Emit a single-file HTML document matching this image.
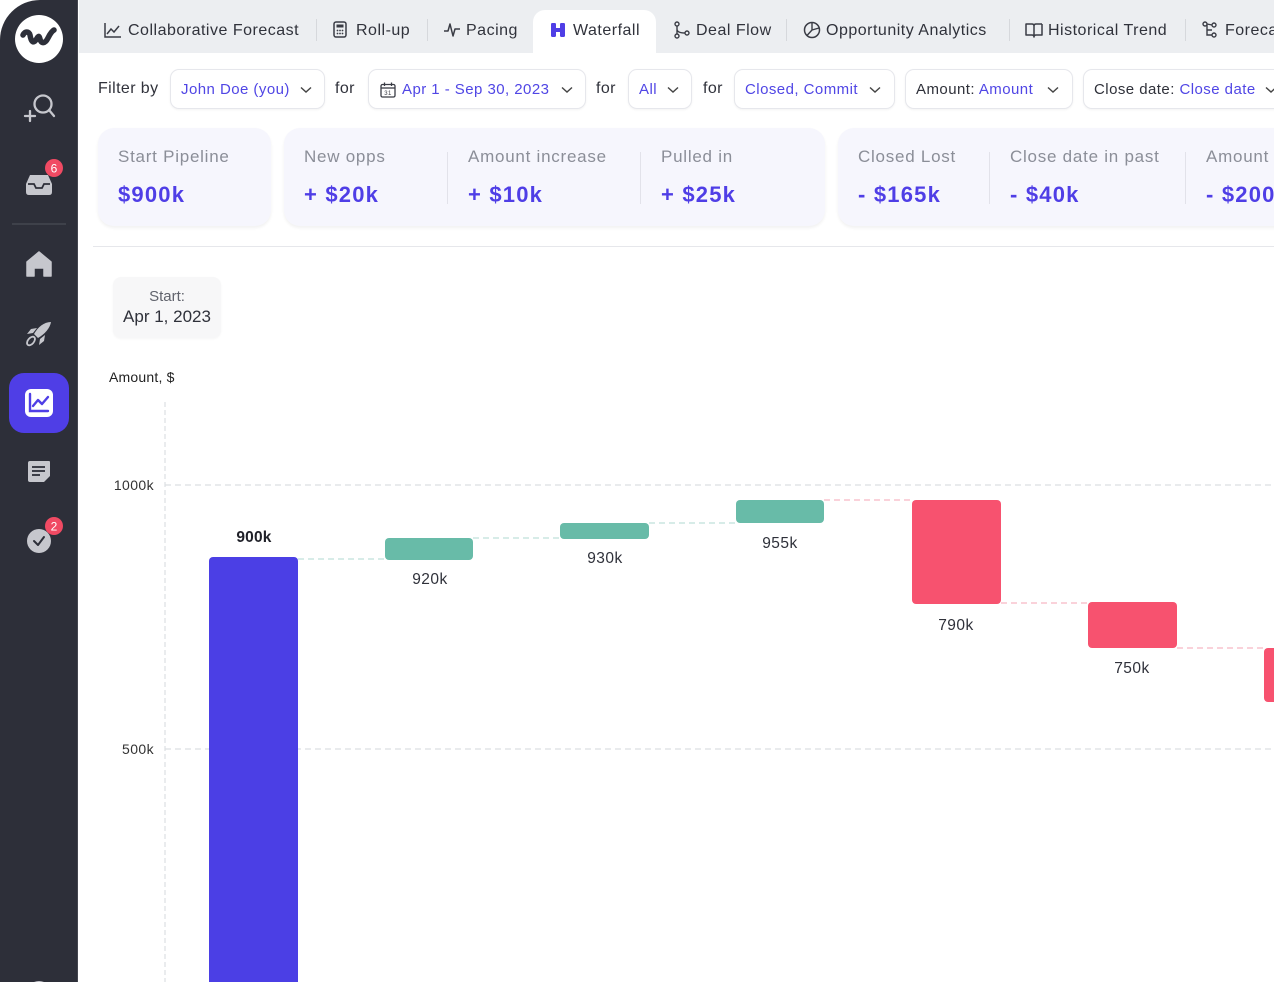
<!DOCTYPE html>
<html>
<head>
<meta charset="utf-8">
<style>
*{margin:0;padding:0;box-sizing:border-box}
html,body{width:1274px;height:982px;overflow:hidden;background:#fff;font-family:"Liberation Sans",Arial,sans-serif;color:#2f313a}
.a{position:absolute}
.t{position:absolute;white-space:nowrap}
.tab{position:absolute;top:21px;height:20px;line-height:20px;font-size:16px;letter-spacing:0.5px;color:#30323b;white-space:nowrap}
.sep{position:absolute;top:19px;width:1px;height:22px;background:#d6d8dc}
.ico{position:absolute;top:22px}
.box{position:absolute;top:69px;height:40px;border:1px solid #e6e7ec;border-radius:9px;background:#fff;box-shadow:0 1px 2px rgba(0,0,0,0.05);font-size:15px;letter-spacing:0.45px;line-height:40px;white-space:nowrap;color:#5046e5}
.dk{color:#2f313a}
.chev{position:absolute;top:16px}
.for{position:absolute;top:79px;height:20px;line-height:20px;font-size:16px;letter-spacing:0.4px;color:#30323b}
.card{position:absolute;top:128px;height:98px;background:#f6f6fd;border-radius:16px;box-shadow:0 2px 3px rgba(0,0,0,0.06)}
.lbl{position:absolute;top:146px;font-size:17px;letter-spacing:0.75px;color:#8b8e98;white-space:nowrap;line-height:22px}
.val{position:absolute;top:182px;font-size:22px;font-weight:bold;letter-spacing:1.2px;color:#4f3ee6;white-space:nowrap;line-height:26px}
.vd{position:absolute;top:152px;width:1px;height:52px;background:#e2e2ea}
</style>
</head>
<body>

<!-- Sidebar -->
<div class="a" style="left:0;top:0;width:78px;height:982px;background:#2d2f39;border-top-left-radius:40px;border-right:1px solid #44464f"></div>
<svg class="a" style="left:0;top:0" width="78" height="982" viewBox="0 0 78 982">
  <circle cx="39" cy="39" r="24" fill="#fff"/>
  <path d="M23,35 C25,31 29,31 30,35 C31,41 33,44 36,40 C38,36 39,35 40,39 C41,44 45,44 48,38 C50,34 52,31 54,30" fill="none" stroke="#2d2f39" stroke-width="5.5" stroke-linecap="round" stroke-linejoin="round"/>
  <circle cx="43" cy="104" r="8.5" fill="none" stroke="#c6c7cd" stroke-width="2.3"/>
  <line x1="49" y1="110" x2="54" y2="116" stroke="#c6c7cd" stroke-width="2.3" stroke-linecap="round"/>
  <line x1="25" y1="116" x2="35" y2="116" stroke="#c6c7cd" stroke-width="2.3" stroke-linecap="round"/>
  <line x1="30" y1="111" x2="30" y2="121" stroke="#c6c7cd" stroke-width="2.3" stroke-linecap="round"/>
  <path d="M30,175 L48,175 L52,184 L52,192 Q52,195 49,195 L29,195 Q26,195 26,192 L26,184 Z" fill="#c6c7cd"/>
  <path d="M28,184 L34,184 L36,188 L42,188 L44,184 L50,184" fill="none" stroke="#2d2f39" stroke-width="1.8"/>
  <circle cx="54" cy="168" r="9" fill="#f04a63"/>
  <text x="54" y="172.5" font-size="12" fill="#fff" text-anchor="middle" font-family="Liberation Sans">6</text>
  <line x1="12" y1="224" x2="66" y2="224" stroke="#4a4c56" stroke-width="1.2"/>
  <path d="M39,252 L51,262 L51,276 L44,276 L44,268 L34,268 L34,276 L27,276 L27,262 Z" fill="#c6c7cd" stroke="#c6c7cd" stroke-width="1.5" stroke-linejoin="round"/>
  <path d="M51,322 C44,322 38,327 34,334 L38,338 C45,334 50,328 51,322 Z" fill="#c6c7cd"/>
  <path d="M33,333 L27,334 L31,329 L37,328 Z" fill="#c6c7cd"/>
  <path d="M40,339 L39,345 L44,341 L45,335 Z" fill="#c6c7cd"/>
  <ellipse cx="31" cy="341" rx="3" ry="5" transform="rotate(40 31 341)" fill="none" stroke="#c6c7cd" stroke-width="1.8"/>
  <rect x="9" y="373" width="60" height="60" rx="15" fill="#4f3ee6"/>
  <rect x="25" y="389" width="28" height="28" rx="6" fill="#fff"/>
  <path d="M30,394 L30,411 L48,411" fill="none" stroke="#4f3ee6" stroke-width="2.4" stroke-linecap="round"/>
  <path d="M33,406 L38,400 L42,404 L48,397" fill="none" stroke="#4f3ee6" stroke-width="2.4" stroke-linecap="round" stroke-linejoin="round"/>
  <path d="M30,461 L49,461 Q50,461 50,462 L50,476 L44,482 L30,482 Q28,482 28,480 L28,463 Q28,461 30,461 Z" fill="#c6c7cd"/>
  <line x1="32" y1="467" x2="45" y2="467" stroke="#2d2f39" stroke-width="1.8"/>
  <line x1="32" y1="471" x2="45" y2="471" stroke="#2d2f39" stroke-width="1.8"/>
  <line x1="32" y1="475" x2="40" y2="475" stroke="#2d2f39" stroke-width="1.8"/>
  <circle cx="39" cy="541" r="12" fill="#c6c7cd"/>
  <path d="M34,541 L38,545 L44,537" fill="none" stroke="#2d2f39" stroke-width="2" stroke-linecap="round" stroke-linejoin="round"/>
  <circle cx="54" cy="526" r="9" fill="#f04a63"/>
  <text x="54" y="530.5" font-size="12" fill="#fff" text-anchor="middle" font-family="Liberation Sans">2</text>
  <circle cx="39" cy="993" r="12" fill="#c6c7cd"/>
</svg>

<!-- Tab bar -->
<div class="a" style="left:79px;top:0;width:1195px;height:53px;background:#eceef1"></div>
<div class="a" style="left:533px;top:10px;width:123px;height:44px;background:#fff;border-radius:12px 12px 0 0"></div>

<svg class="ico" style="left:104px" width="18" height="16" viewBox="0 0 18 16"><path d="M1,1 L1,15 L17,15" fill="none" stroke="#3a3c45" stroke-width="1.5"/><path d="M3,12 L7,7 L10,10 L15,4" fill="none" stroke="#3a3c45" stroke-width="1.5"/></svg>
<div class="tab" style="left:128px">Collaborative Forecast</div>
<div class="sep" style="left:316px"></div>
<svg class="ico" style="left:333px;top:21px" width="14" height="17" viewBox="0 0 14 17"><rect x="1" y="1" width="12" height="15" rx="2" fill="none" stroke="#3a3c45" stroke-width="1.5"/><rect x="3.5" y="3.5" width="7" height="3" fill="#3a3c45"/><circle cx="4.5" cy="9.5" r="0.9" fill="#3a3c45"/><circle cx="7" cy="9.5" r="0.9" fill="#3a3c45"/><circle cx="9.5" cy="9.5" r="0.9" fill="#3a3c45"/><circle cx="4.5" cy="12.5" r="0.9" fill="#3a3c45"/><circle cx="7" cy="12.5" r="0.9" fill="#3a3c45"/><circle cx="9.5" cy="12.5" r="0.9" fill="#3a3c45"/></svg>
<div class="tab" style="left:356px">Roll-up</div>
<div class="sep" style="left:427px"></div>
<svg class="ico" style="left:443px" width="18" height="16" viewBox="0 0 18 16"><path d="M1,9 L5,9 L7,2 L10,14 L12,7 L17,7" fill="none" stroke="#3a3c45" stroke-width="1.5" stroke-linejoin="round"/></svg>
<div class="tab" style="left:466px">Pacing</div>
<svg class="ico" style="left:550px" width="16" height="16" viewBox="0 0 16 16"><rect x="1" y="1" width="5" height="14" rx="1.2" fill="#4f3ee6"/><rect x="10" y="1" width="5" height="14" rx="1.2" fill="#4f3ee6"/><rect x="5" y="6" width="6" height="4" fill="#4f3ee6"/></svg>
<div class="tab" style="left:573px">Waterfall</div>
<svg class="ico" style="left:673px;top:21px" width="18" height="18" viewBox="0 0 18 18"><circle cx="4" cy="3" r="2" fill="none" stroke="#3a3c45" stroke-width="1.4"/><circle cx="4" cy="15" r="2" fill="none" stroke="#3a3c45" stroke-width="1.4"/><circle cx="14" cy="12" r="2" fill="none" stroke="#3a3c45" stroke-width="1.4"/><path d="M4,5 L4,13 M4,8 Q4,12 12,12" fill="none" stroke="#3a3c45" stroke-width="1.4"/></svg>
<div class="tab" style="left:696px">Deal Flow</div>
<div class="sep" style="left:786px"></div>
<svg class="ico" style="left:803px;top:21px" width="18" height="18" viewBox="0 0 18 18"><circle cx="9" cy="9" r="7.5" fill="none" stroke="#3a3c45" stroke-width="1.5"/><path d="M9,9 L9,1.5 M9,9 L4,14.5 M9,9 L16,7" fill="none" stroke="#3a3c45" stroke-width="1.4"/></svg>
<div class="tab" style="left:826px">Opportunity Analytics</div>
<div class="sep" style="left:1009px"></div>
<svg class="ico" style="left:1025px;top:22px" width="18" height="16" viewBox="0 0 18 16"><path d="M1,2 L7,2 Q9,2 9,4 L9,15 Q9,13 7,13 L1,13 Z M17,2 L11,2 Q9,2 9,4 M17,2 L17,13 L11,13 Q9,13 9,15" fill="none" stroke="#3a3c45" stroke-width="1.5" stroke-linejoin="round"/></svg>
<div class="tab" style="left:1048px">Historical Trend</div>
<div class="sep" style="left:1185px"></div>
<svg class="ico" style="left:1202px;top:21px" width="16" height="18" viewBox="0 0 16 18"><circle cx="3" cy="3" r="2" fill="none" stroke="#3a3c45" stroke-width="1.4"/><circle cx="12" cy="4" r="2" fill="none" stroke="#3a3c45" stroke-width="1.4"/><circle cx="12" cy="14" r="2" fill="none" stroke="#3a3c45" stroke-width="1.4"/><path d="M5,3 L10,4 M5,4 L5,14 L10,14 M5,9 L10,9" fill="none" stroke="#3a3c45" stroke-width="1.4"/></svg>
<div class="tab" style="left:1225px">Forecast</div>

<!-- Filter row -->
<div class="for" style="left:98px">Filter by</div>
<div class="box" style="left:170px;width:155px"><span style="position:absolute;left:10px;top:0">John Doe (you)</span>
<svg class="chev" style="left:129px" width="12" height="8" viewBox="0 0 12 8"><path d="M1,1.5 L6,6 L11,1.5" fill="none" stroke="#444" stroke-width="1.4"/></svg></div>
<div class="for" style="left:335px">for</div>
<div class="box" style="left:368px;width:218px">
<svg class="a" style="left:11px;top:12px" width="16" height="16" viewBox="0 0 16 16"><rect x="1" y="2.5" width="14" height="12.5" rx="1.5" fill="none" stroke="#3a3c45" stroke-width="1.3"/><line x1="1" y1="6" x2="15" y2="6" stroke="#3a3c45" stroke-width="1.3"/><line x1="4.5" y1="0.5" x2="4.5" y2="4" stroke="#3a3c45" stroke-width="1.3"/><line x1="11.5" y1="0.5" x2="11.5" y2="4" stroke="#3a3c45" stroke-width="1.3"/><text x="8" y="13" font-size="6" text-anchor="middle" fill="#3a3c45" font-family="Liberation Sans">31</text></svg>
<span style="position:absolute;left:33px;top:0">Apr 1 - Sep 30, 2023</span>
<svg class="chev" style="left:192px" width="12" height="8" viewBox="0 0 12 8"><path d="M1,1.5 L6,6 L11,1.5" fill="none" stroke="#444" stroke-width="1.4"/></svg></div>
<div class="for" style="left:596px">for</div>
<div class="box" style="left:628px;width:64px"><span style="position:absolute;left:10px;top:0">All</span>
<svg class="chev" style="left:38px" width="12" height="8" viewBox="0 0 12 8"><path d="M1,1.5 L6,6 L11,1.5" fill="none" stroke="#444" stroke-width="1.4"/></svg></div>
<div class="for" style="left:703px">for</div>
<div class="box" style="left:734px;width:161px"><span style="position:absolute;left:10px;top:0">Closed, Commit</span>
<svg class="chev" style="left:134px" width="12" height="8" viewBox="0 0 12 8"><path d="M1,1.5 L6,6 L11,1.5" fill="none" stroke="#444" stroke-width="1.4"/></svg></div>
<div class="box" style="left:905px;width:168px"><span style="position:absolute;left:10px;top:0"><span class="dk">Amount: </span>Amount</span>
<svg class="chev" style="left:141px" width="12" height="8" viewBox="0 0 12 8"><path d="M1,1.5 L6,6 L11,1.5" fill="none" stroke="#444" stroke-width="1.4"/></svg></div>
<div class="box" style="left:1083px;width:210px"><span style="position:absolute;left:10px;top:0"><span class="dk">Close date: </span>Close date</span>
<svg class="chev" style="left:181px" width="12" height="8" viewBox="0 0 12 8"><path d="M1,1.5 L6,6 L11,1.5" fill="none" stroke="#444" stroke-width="1.4"/></svg></div>

<!-- Cards -->
<div class="card" style="left:98px;width:173px"></div>
<div class="card" style="left:284px;width:541px"></div>
<div class="card" style="left:838px;width:460px"></div>

<div class="lbl" style="left:118px">Start Pipeline</div>
<div class="val" style="left:118px">$900k</div>

<div class="lbl" style="left:304px">New opps</div>
<div class="val" style="left:304px">+ $20k</div>
<div class="vd" style="left:447px"></div>
<div class="lbl" style="left:468px">Amount increase</div>
<div class="val" style="left:468px">+ $10k</div>
<div class="vd" style="left:640px"></div>
<div class="lbl" style="left:661px">Pulled in</div>
<div class="val" style="left:661px">+ $25k</div>

<div class="lbl" style="left:858px">Closed Lost</div>
<div class="val" style="left:858px">- $165k</div>
<div class="vd" style="left:989px"></div>
<div class="lbl" style="left:1010px">Close date in past</div>
<div class="val" style="left:1010px">- $40k</div>
<div class="vd" style="left:1185px"></div>
<div class="lbl" style="left:1206px">Amount</div>
<div class="val" style="left:1206px">- $200k</div>

<!-- divider -->
<div class="a" style="left:93px;top:246px;width:1181px;height:1px;background:#e6e7eb"></div>

<!-- Start box -->
<div class="a" style="left:113px;top:277px;width:108px;height:61px;background:#f7f7f8;border-radius:8px;box-shadow:0 1px 2px rgba(0,0,0,0.04)"></div>
<div class="t" style="left:113px;top:288px;width:108px;text-align:center;font-size:15px;line-height:18px;color:#60636c">Start:</div>
<div class="t" style="left:113px;top:307px;width:108px;text-align:center;font-size:17px;line-height:20px;color:#2f313a">Apr 1, 2023</div>

<div class="t" style="left:109px;top:369px;font-size:14px;line-height:17px;color:#222;letter-spacing:0.2px">Amount, $</div>

<!-- Chart -->
<svg class="a" style="left:0;top:0" width="1274" height="982" viewBox="0 0 1274 982">
  <line x1="165" y1="402" x2="165" y2="982" stroke="#dfe2e4" stroke-width="1.3" stroke-dasharray="5,3"/>
  <line x1="165" y1="485" x2="1274" y2="485" stroke="#dcdfe2" stroke-width="1.2" stroke-dasharray="6,4"/>
  <line x1="165" y1="749" x2="1274" y2="749" stroke="#dcdfe2" stroke-width="1.2" stroke-dasharray="6,4"/>
  <text x="154" y="490" font-size="14" text-anchor="end" fill="#333" font-family="Liberation Sans" letter-spacing="0.4">1000k</text>
  <text x="154" y="754" font-size="14" text-anchor="end" fill="#333" font-family="Liberation Sans" letter-spacing="0.4">500k</text>

  <g stroke-width="1.3" stroke-dasharray="6,4">
    <line x1="298" y1="559" x2="385" y2="559" stroke="#bfe1d9"/>
    <line x1="473" y1="538" x2="560" y2="538" stroke="#bfe1d9"/>
    <line x1="649" y1="523" x2="736" y2="523" stroke="#bfe1d9"/>
    <line x1="824" y1="500" x2="912" y2="500" stroke="#f8b7c3"/>
    <line x1="1001" y1="603" x2="1088" y2="603" stroke="#f8b7c3"/>
    <line x1="1177" y1="648" x2="1264" y2="648" stroke="#f8b7c3"/>
  </g>

  <rect x="209" y="557" width="89" height="440" rx="4" fill="#4b3fe5"/>
  <rect x="385" y="538" width="88" height="22" rx="4" fill="#68bba8"/>
  <rect x="560" y="523" width="89" height="16" rx="4" fill="#68bba8"/>
  <rect x="736" y="500" width="88" height="23" rx="4" fill="#68bba8"/>
  <rect x="912" y="500" width="89" height="104" rx="4" fill="#f7526f"/>
  <rect x="1088" y="602" width="89" height="46" rx="4" fill="#f7526f"/>
  <rect x="1264" y="648" width="89" height="54" rx="4" fill="#f7526f"/>

  <g font-family="Liberation Sans" font-size="15.5" text-anchor="middle" fill="#2f313a" letter-spacing="0.5">
    <text x="254" y="542" font-weight="bold" fill="#1f2028" letter-spacing="0.2">900k</text>
    <text x="430" y="584">920k</text>
    <text x="605" y="563">930k</text>
    <text x="780" y="548">955k</text>
    <text x="956" y="630">790k</text>
    <text x="1132" y="673">750k</text>
  </g>
</svg>

</body>
</html>
